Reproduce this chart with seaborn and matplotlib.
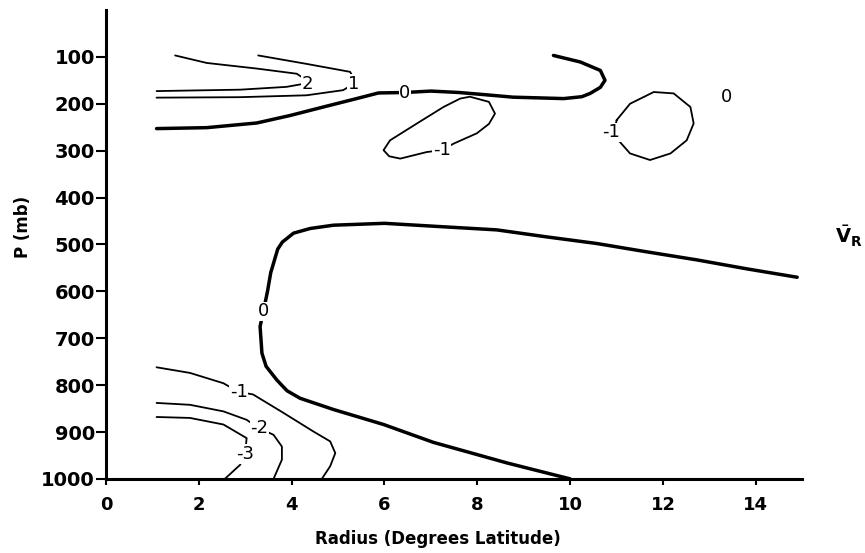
import matplotlib
matplotlib.use("Agg")
import matplotlib.pyplot as plt
import seaborn as sns

# contour lines of mean radial wind (radius deg lat, pressure mb)
pos2_r = [1.49, 2.17, 3.25, 4.11, 4.40, 3.89, 2.89, 1.09]
pos2_p = [97, 113, 125, 136, 155, 164, 170, 173]

pos1_r = [3.28, 4.32, 5.26, 5.38, 5.11, 4.32, 2.89, 1.09]
pos1_p = [97, 115, 132, 155, 171, 182, 186, 187]

zero_top_r = [1.09, 2.17, 3.25, 3.97, 4.68, 5.4, 5.87, 6.44, 7.0, 7.6, 8.2,
              8.77, 9.14, 9.86, 10.25, 10.43, 10.65, 10.75, 10.65, 10.22, 9.64]
zero_top_p = [253, 251, 241, 225, 207, 189, 177, 176, 173, 176, 181,
              186, 187, 189, 185, 178, 165, 150, 129, 111, 97]

neg1_mid_r = [7.23, 7.49, 7.99, 8.25, 8.38, 8.25, 7.84, 7.63, 7.27, 6.7,
              6.12, 5.98, 6.1, 6.34, 6.91, 7.23]
neg1_mid_p = [299, 285, 263, 243, 221, 196, 185, 189, 207, 242,
              278, 299, 312, 317, 303, 299]

neg1_right_r = [11.0, 11.29, 11.8, 12.23, 12.59, 12.66, 12.51, 12.16, 11.72,
                11.29, 11.04, 10.95, 11.0]
neg1_right_p = [235, 200, 175, 178, 207, 242, 278, 306, 320,
                306, 278, 260, 235]

zero_low_r = [14.89, 13.8, 12.73, 11.6, 10.57, 9.5, 8.42, 7.2, 6.0, 4.9, 4.4,
              4.04, 3.8, 3.7, 3.55, 3.48, 3.39, 3.32, 3.36, 3.45, 3.68, 3.9,
              4.18, 4.9, 5.98, 7.05, 8.64, 10.0]
zero_low_p = [570, 552, 533, 515, 498, 484, 469, 462, 455, 459, 466,
              476, 495, 510, 560, 600, 643, 675, 732, 760, 789, 812,
              828, 852, 884, 922, 966, 1000]

neg1_low_r = [1.09, 1.81, 2.53, 2.85, 3.17, 3.82, 4.47, 4.83, 4.94, 4.83, 4.65]
neg1_low_p = [762, 774, 796, 814, 820, 859, 899, 920, 945, 973, 1000]

neg2_r = [1.09, 1.81, 2.53, 3.03, 3.28, 3.61, 3.79, 3.79, 3.61]
neg2_p = [838, 842, 856, 874, 891, 906, 931, 959, 1000]

neg3_r = [1.09, 1.81, 2.53, 3.03, 3.0, 2.89, 2.56]
neg3_p = [868, 870, 884, 913, 945, 970, 1000]

labels = ["2", "1", "0", "-1", "-1", "0", "-1", "-2", "-3"]
label_r = [4.34, 5.33, 6.44, 7.23, 10.88, 3.39, 2.86, 3.31, 3.0]
label_p = [157, 157, 178, 299, 261, 643, 814, 891, 947]

x_ticks = [0, 2, 4, 6, 8, 10, 12, 14]
y_ticks = [100, 200, 300, 400, 500, 600, 700, 800, 900, 1000]

sns.set_style("ticks")
plt.rcParams['font.family'] = ['DejaVu Sans']
plt.rcParams['text.color'] = 'black'
plt.rcParams['axes.labelcolor'] = 'black'
plt.rcParams['xtick.color'] = 'black'
plt.rcParams['ytick.color'] = 'black'
plt.rcParams['axes.edgecolor'] = 'black'
plt.rcParams['lines.solid_joinstyle'] = 'round'
plt.rcParams['lines.solid_capstyle'] = 'round'

fig = plt.figure(figsize=(8.65, 5.53), dpi=100)
ax = fig.add_axes([0.1225, 0.134, 0.805, 0.848])

thin = [(pos2_r, pos2_p), (pos1_r, pos1_p), (neg1_mid_r, neg1_mid_p),
        (neg1_right_r, neg1_right_p), (neg1_low_r, neg1_low_p),
        (neg2_r, neg2_p), (neg3_r, neg3_p)]
thick = [(zero_top_r, zero_top_p), (zero_low_r, zero_low_p)]

for r, p in thin:
    sns.lineplot(x=r, y=p, sort=False, estimator=None, color="black",
                 linewidth=1.3, ax=ax)
for r, p in thick:
    sns.lineplot(x=r, y=p, sort=False, estimator=None, color="black",
                 linewidth=2.5, ax=ax)

for t, r, p in zip(labels, label_r, label_p):
    ax.text(r, p, t, ha="center", va="center", fontsize=13,
            bbox=dict(facecolor="white", edgecolor="none", pad=0.5))
# free standing zero on the right
ax.text(13.36, 186, "0", ha="center", va="center", fontsize=13)

ax.set_xlim(0, 15)
ax.set_ylim(1000, 0)
ax.set_xticks(x_ticks)
ax.set_yticks(y_ticks)
ax.tick_params(axis="y", length=7, width=1.5, pad=1, labelsize=14)
ax.tick_params(axis="x", length=4, width=1.5, pad=8, labelsize=13)
for lab in ax.get_xticklabels() + ax.get_yticklabels():
    lab.set_fontweight("bold")

ax.set_xlabel("Radius (Degrees Latitude)", fontsize=12, fontweight="bold")
ax.set_ylabel("P (mb)", fontsize=12, fontweight="bold")
ax.xaxis.set_label_coords(0.476, -0.108)
ax.yaxis.set_label_coords(-0.106, 0.537)

sns.despine(ax=ax)
ax.spines["left"].set_linewidth(2.2)
ax.spines["bottom"].set_linewidth(2.2)

fig.text(835 / 865, 1 - 236 / 553, r"$\bar{\mathbf{V}}_{\mathbf{R}}$",
         fontsize=14, ha="left", va="center")

fig.savefig("out.png", dpi=100)
